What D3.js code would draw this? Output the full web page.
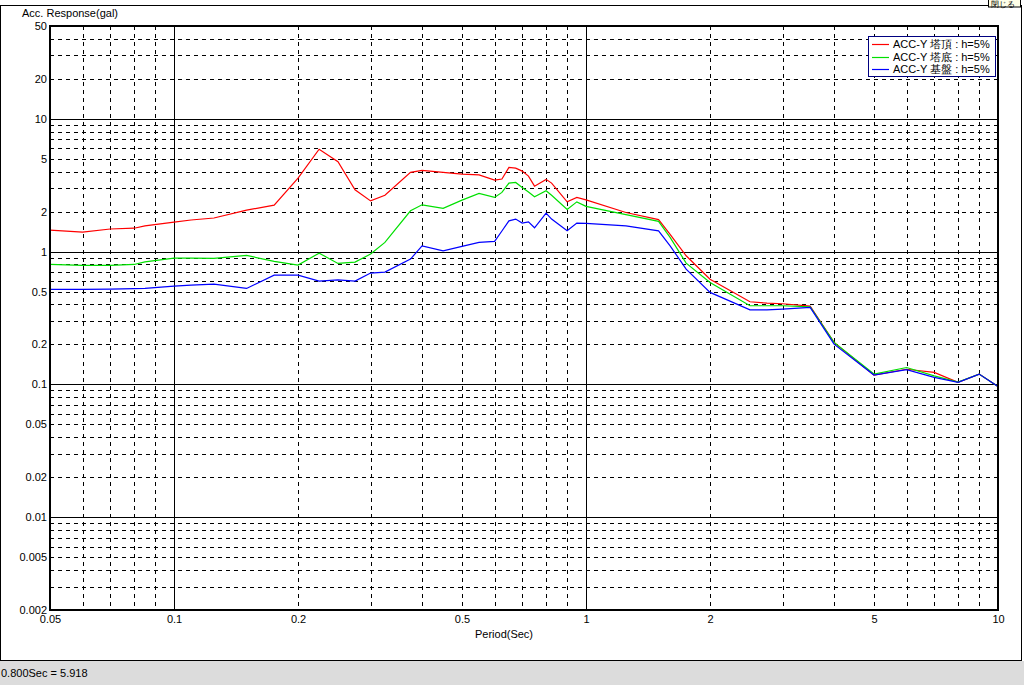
<!DOCTYPE html>
<html><head><meta charset="utf-8">
<script src="https://cdn.jsdelivr.net/npm/d3@7"></script>
<style>
html,body{margin:0;padding:0;background:#fff;overflow:hidden}
svg{display:block}
text{font-family:"Liberation Sans",Arial,sans-serif;font-size:11px;fill:#000}
</style></head>
<body>
<script>
const periods = [0.05,0.06,0.07,0.08,0.085,0.1,0.11,0.125,0.15,0.175,0.2,0.225,0.25,0.275,0.3,0.325,0.375,0.4,0.45,0.5,0.55,0.6,0.625,0.65,0.675,0.7,0.725,0.75,0.8,0.825,0.9,0.95,1.0,1.25,1.5,1.6,1.75,2,2.5,2.75,3.0,3.5,4.0,5,6,7,8,9,10];
const towerTop = [1.45,1.40,1.48,1.50,1.56,1.67,1.73,1.79,2.05,2.24,3.58,5.9,4.75,2.92,2.41,2.66,3.95,4.09,3.95,3.83,3.78,3.45,3.52,4.31,4.25,4.04,3.70,3.11,3.50,3.28,2.37,2.56,2.45,1.97,1.74,1.35,0.93,0.62,0.419,0.409,0.405,0.389,0.207,0.1175,0.130,0.123,0.1035,0.1196,0.0966];
const towerBase = [0.80,0.787,0.787,0.80,0.838,0.893,0.893,0.889,0.936,0.844,0.791,0.974,0.815,0.834,0.958,1.173,2.03,2.25,2.115,2.44,2.74,2.56,2.79,3.28,3.32,3.04,2.81,2.59,2.87,2.66,2.08,2.37,2.19,1.90,1.69,1.28,0.819,0.586,0.391,0.391,0.391,0.384,0.207,0.1196,0.134,0.116,0.104,0.1196,0.0966];
const foundation = [0.519,0.519,0.522,0.526,0.528,0.550,0.559,0.569,0.528,0.665,0.665,0.600,0.613,0.600,0.689,0.701,0.878,1.106,1.014,1.094,1.173,1.193,1.43,1.706,1.757,1.639,1.676,1.511,1.950,1.757,1.434,1.639,1.631,1.564,1.434,1.106,0.738,0.493,0.364,0.364,0.369,0.380,0.201,0.1175,0.129,0.113,0.1035,0.1196,0.0966];
const seriesNames = ["ACC-Y 塔頂 : h=5%","ACC-Y 塔底 : h=5%","ACC-Y 基盤 : h=5%"];
const seriesColors = ["#ff0000","#00e000","#0000ff"];
const xTickLabels = [0.05,0.1,0.2,0.5,1,2,5,10];
const yTickLabels = [50,20,10,5,2,1,0.5,0.2,0.1,0.05,0.02,0.01,0.005,0.002];
const xTitle = "Period(Sec)";
const yTitle = "Acc. Response(gal)";
const statusText = "0.800Sec = 5.918";
const closeText = "閉じる";

const W=1024,H=685;
const svg=d3.select("body").append("svg").attr("width",W).attr("height",H);

// window frame
svg.append("rect").attr("x",0).attr("y",661).attr("width",W).attr("height",24).attr("fill","#dcdcdc");
svg.append("line").attr("x1",0.5).attr("x2",0.5).attr("y1",5).attr("y2",660).attr("stroke","#000");
svg.append("line").attr("x1",1021.5).attr("x2",1021.5).attr("y1",5).attr("y2",660).attr("stroke","#000");
svg.append("line").attr("x1",0).attr("x2",1022).attr("y1",660.5).attr("y2",660.5).attr("stroke","#000");
svg.append("line").attr("x1",0).attr("x2",988).attr("y1",5.5).attr("y2",5.5).attr("stroke","#000");
svg.append("rect").attr("x",988.5).attr("y",-4).attr("width",32).attr("height",11).attr("fill","#ffffe8").attr("stroke","#000");
svg.append("text").attr("x",991).attr("y",7).style("font-size","8px").text(closeText);
svg.append("text").attr("x",1).attr("y",677).style("font-size","11px").text(statusText);

const x=d3.scaleLog().domain([0.05,10]).range([50,998]);
const y=d3.scaleLog().domain([0.002,50]).range([610,26]);

const g=svg.append("g");
// minor grid
const xMinor=[];
for(const d of [0.01,0.1,1]) for(let k=2;k<=9;k++){const v=d*k; if(v>0.05&&v<10) xMinor.push(v);}
const yMinor=[];
for(const d of [0.001,0.01,0.1,1,10]) for(let k=2;k<=9;k++){const v=d*k; if(v>0.002&&v<50) yMinor.push(v);}
g.selectAll(".xm").data(xMinor).enter().append("line")
 .attr("x1",d=>Math.round(x(d))+0.5).attr("x2",d=>Math.round(x(d))+0.5)
 .attr("y1",26).attr("y2",610).attr("stroke","#000").attr("stroke-dasharray","4,4");
g.selectAll(".ym").data(yMinor).enter().append("line")
 .attr("y1",d=>Math.round(y(d))+0.5).attr("y2",d=>Math.round(y(d))+0.5)
 .attr("x1",50).attr("x2",998).attr("stroke","#000").attr("stroke-dasharray","4,4");
// major grid
g.selectAll(".xM").data([0.1,1]).enter().append("line")
 .attr("x1",d=>Math.round(x(d))+0.5).attr("x2",d=>Math.round(x(d))+0.5)
 .attr("y1",26).attr("y2",610).attr("stroke","#000");
g.selectAll(".yM").data([0.01,0.1,1,10]).enter().append("line")
 .attr("y1",d=>Math.round(y(d))+0.5).attr("y2",d=>Math.round(y(d))+0.5)
 .attr("x1",50).attr("x2",998).attr("stroke","#000");

// curves
const data=[towerTop,towerBase,foundation];
const line=d3.line().x((d,i)=>x(periods[i])).y(d=>y(d));
data.forEach((s,i)=>{
  g.append("path").datum(s).attr("d",line).attr("fill","none").attr("stroke",seriesColors[i]).attr("stroke-width",1.2);
});

// frame
g.append("rect").attr("x",50).attr("y",26).attr("width",948).attr("height",584).attr("fill","none").attr("stroke","#000").attr("stroke-width",2);

// axes labels
const xAxis=d3.axisBottom(x).tickValues(xTickLabels).tickFormat(d=>String(d)).tickSize(0).tickPadding(4);
const xa=svg.append("g").attr("transform","translate(0,611)").call(xAxis);
xa.select(".domain").remove();
xa.selectAll("text").style("font-size","11px").attr("fill","#000");
const yAxis=d3.axisLeft(y).tickValues(yTickLabels).tickFormat(d=>String(d)).tickSize(0).tickPadding(2);
const ya=svg.append("g").attr("transform","translate(49,0)").call(yAxis);
ya.select(".domain").remove();
ya.selectAll("text").style("font-size","11px").attr("fill","#000");

svg.append("text").attr("x",22).attr("y",17).text(yTitle);
svg.append("text").attr("x",504).attr("y",638).attr("text-anchor","middle").text(xTitle);

// legend
const lg=svg.append("g");
lg.append("rect").attr("x",868.5).attr("y",36.5).attr("width",127).attr("height",40).attr("fill","#fff").attr("stroke","#000080");
seriesNames.forEach((n,i)=>{
  const yy=44+i*12.5;
  lg.append("line").attr("x1",872).attr("x2",889).attr("y1",Math.round(yy)+0.5).attr("y2",Math.round(yy)+0.5).attr("stroke",seriesColors[i]).attr("stroke-width",1.2);
  lg.append("text").attr("x",893).attr("y",yy+4).style("font-size","11px").text(n);
});
</script>
</body></html>
